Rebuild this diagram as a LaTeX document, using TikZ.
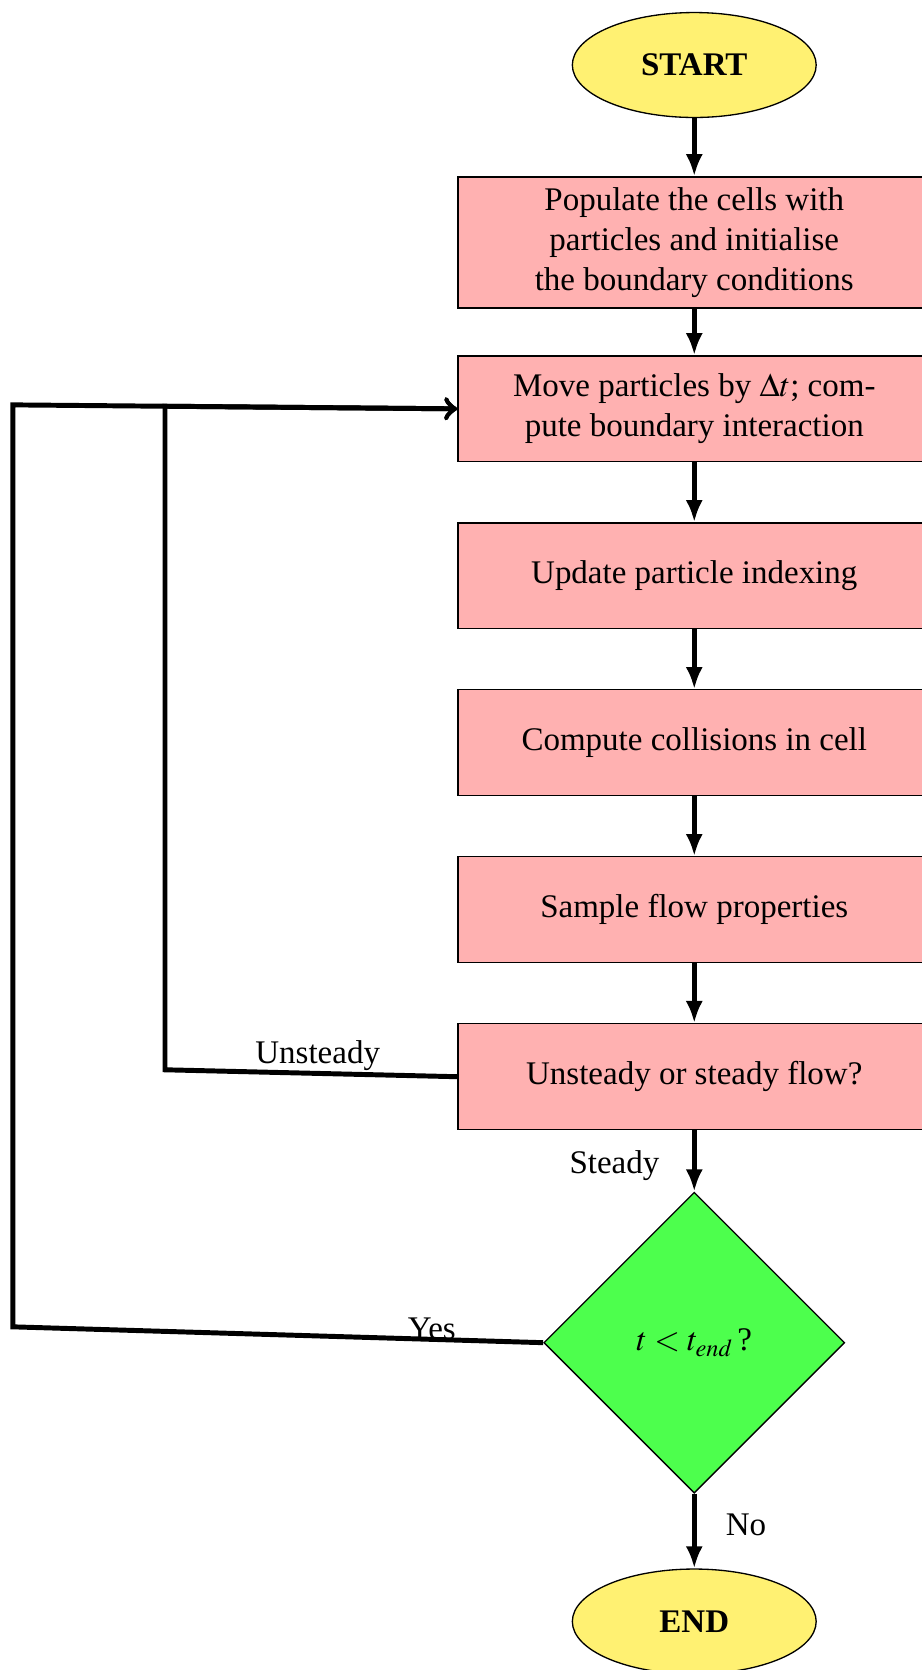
\documentclass[tikz,border=0pt]{standalone}
\usepackage{mathptmx}
\usepackage{fontspec}
\setmainfont{Liberation Serif}
\usepackage{tikz}
\usetikzlibrary{positioning, arrows.meta, shapes.geometric}

\definecolor{startyellow}{RGB}{255,241,114}
\definecolor{procpink}{RGB}{255,177,177}
\definecolor{decgreen}{RGB}{77,255,77}

\begin{document}
\begin{tikzpicture}[>={Latex[length=6.7pt,width=5.2pt]}, node distance=50.6pt,
    startstop/.style={draw, ellipse, fill=startyellow, minimum width=73.9pt, minimum height=31.8pt, font=\bfseries},
    process/.style={draw, rectangle, fill=procpink, minimum width=143.3pt, minimum height=32.1pt, align=center},
    decision/.style={draw, diamond, fill=decgreen, minimum width=91.2pt, minimum height=91.2pt, inner sep=0pt},
    line/.style={line width=1.5pt}]
    \useasboundingbox (0,0) rectangle (279.4pt,-506.1pt);

    \node[startstop] (start) at (210.4pt,-19.7pt) {START};
    \node[process, below of=start, node distance=53.8pt] (populate) {Populate the cells with\\particles and initialise\\the boundary conditions};
    \node[process, below of=populate, node distance=50.4pt] (move) {Move particles by $\Delta t$; com-\\pute boundary interaction};
    \node[process, below of=move] (update) {Update particle indexing};
    \node[process, below of=update] (collide) {Compute collisions in cell};
    \node[process, below of=collide] (sample) {Sample flow properties};
    \node[process, below of=sample] (check) {Unsteady or steady flow?};
    \node[decision, below of=check, node distance=80.6pt] (tend) {$t < t_{end}\,$?};
    \node[startstop, below of=tend, node distance=84.5pt] (stop) {END};

    % corners of the two loops back to the move step
    \coordinate (unsteadycorner) at (50pt,-324.2pt);
    \coordinate (unsteadytop) at (50pt,-123.1pt);
    \coordinate (yescorner) at (3.9pt,-402.1pt);
    \coordinate (yestop) at (3.9pt,-122.7pt);

    \draw[line, ->] (start) -- (populate);
    \draw[line, ->] (populate) -- (move);
    \draw[line, ->] (move) -- (update);
    \draw[line, ->] (update) -- (collide);
    \draw[line, ->] (collide) -- (sample);
    \draw[line, ->] (sample) -- (check);
    \draw[line, ->] (check) -- node[left, xshift=-6.5pt, yshift=-1.5pt] {Steady} (tend);
    \draw[line, ->] (tend) -- node[right, xshift=5.5pt, yshift=2pt] {No} (stop);

    \draw[line, -to] (check.west) -- node[above, inner sep=0pt, xshift=2pt] {Unsteady} (unsteadycorner) -- (unsteadytop) -- (move.west);
    \draw[line, -to] (tend.west) -- node[pos=0.21, above, inner sep=0pt, yshift=-1pt] {Yes} (yescorner) -- (yestop) -- (move.west);
\end{tikzpicture}
\end{document}
